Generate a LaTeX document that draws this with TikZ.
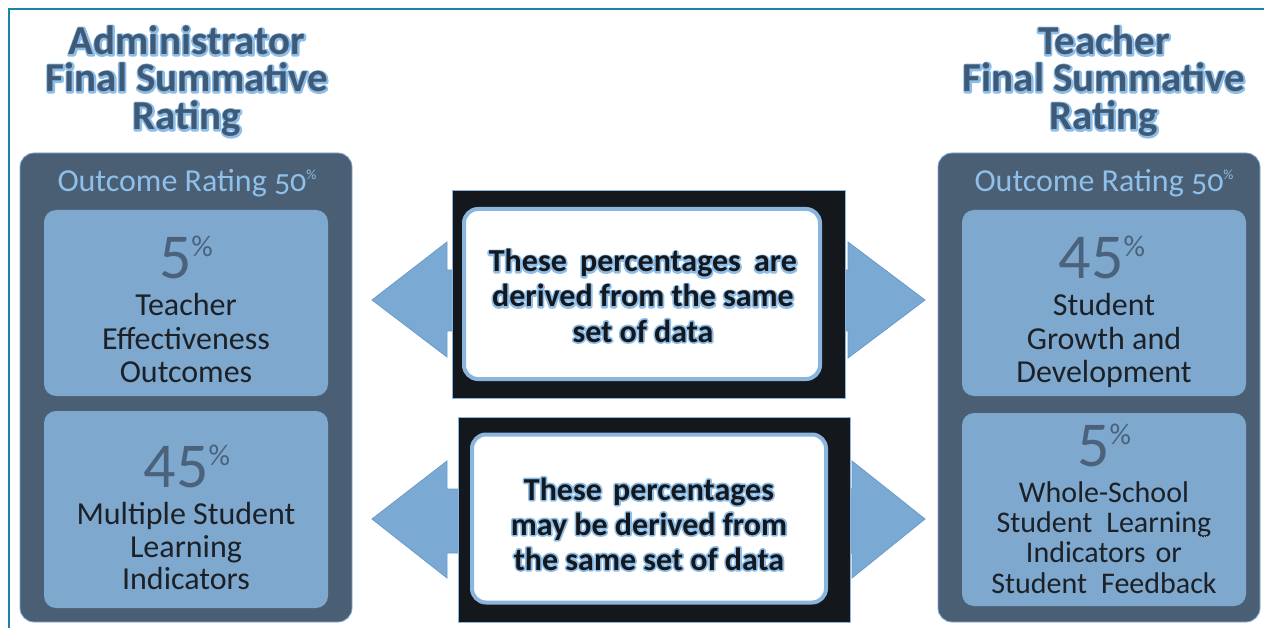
\documentclass[tikz,border=0pt]{standalone}
\usepackage{fontspec}
\setmainfont{Carlito}
\newfontfamily\osfont[Numbers=OldStyle]{Carlito}
\usetikzlibrary{calc}
\definecolor{framec}{HTML}{1B84A6}
\definecolor{panelc}{HTML}{4A5E74}
\definecolor{paneledge}{HTML}{7FAED6}
\definecolor{innerc}{HTML}{7EA8CD}
\definecolor{arrowc}{HTML}{7AAAD3}
\definecolor{arrowedge}{HTML}{6A9CCB}
\definecolor{blackc}{HTML}{14181D}
\definecolor{whiteedge}{HTML}{8AB6DE}
\definecolor{hdrc}{HTML}{3F5A77}
\definecolor{haloc}{HTML}{8EBEE8}
\definecolor{outc}{HTML}{8EC0EA}
\definecolor{numc}{HTML}{4B627C}
\definecolor{bodyc}{HTML}{1C2128}
\newcommand\hdrfont{\fontsize{41}{41}\selectfont\bfseries}
\newcommand\ctrfont{\fontsize{32}{32}\selectfont\bfseries}
\newcommand\bodyfont{\fontsize{32}{32}\selectfont}
\newcommand\smallbodyfont{\fontsize{30}{30}\selectfont}
\newcommand\outfont{\fontsize{32}{32}\selectfont}
\newcommand\pctnum[1]{{\fontsize{64}{64}\selectfont #1}{\fontsize{30}{30}\selectfont\raisebox{22pt}{\%}}}
% text with a light outline: stroked copy underneath, filled copy on top
\newcommand\outlined[1]{\leavevmode\rlap{\color{haloc}\special{pdf:literal direct 1 Tr 1 j 3.4 w}#1\special{pdf:literal direct 0 Tr 0 j 0.4 w}}#1}
\tikzset{
  panel/.style={fill=panelc,draw=paneledge,line width=0.8pt,rounded corners=14pt,inner sep=0pt},
  innerbox/.style={fill=innerc,rounded corners=12pt,inner sep=0pt},
  blackbox/.style={fill=blackc,draw=whiteedge,line width=0.8pt,inner sep=0pt},
  whitebox/.style={fill=white,draw=whiteedge,line width=4pt,rounded corners=14pt,inner sep=0pt},
  arrowshape/.style={fill=arrowc,draw=arrowedge,line width=0.8pt},
  txt/.style={anchor=base,inner sep=0pt},
  hdr/.style={txt,font=\hdrfont,text=hdrc},
  ctr/.style={txt,font=\ctrfont,text=blackc},
}
\begin{document}
\begin{tikzpicture}[x=1pt,y=-1pt]
\useasboundingbox (0,0) rectangle (1264,628);
\fill[white] (0,0) rectangle (1264,628);
% frame
\coordinate (ftl) at (9,9);
\coordinate (ftr) at (1264,9);
\coordinate (fbl) at (9,628);
\draw[framec,line width=2.5pt] (fbl) -- (ftl) -- (ftr);
% panels
\node[panel,minimum width=332,minimum height=469] (lpanel) at (186,387.5) {};
\node[panel,minimum width=322,minimum height=469] (rpanel) at (1099,387.5) {};
\node[innerbox,minimum width=284,minimum height=186] (lbox1) at (186,303) {};
\node[innerbox,minimum width=284,minimum height=197] (lbox2) at (186,509.5) {};
\node[innerbox,minimum width=284,minimum height=186] (rbox1) at (1104,303) {};
\node[innerbox,minimum width=284,minimum height=193] (rbox2) at (1104,509.5) {};
% arrows
\draw[arrowshape] (455,270) -- (447,270) -- (447,242) -- (372,300) -- (447,357) -- (447,331) -- (455,331) -- cycle;
\draw[arrowshape] (840,270) -- (848,270) -- (848,242) -- (925,300) -- (848,358) -- (848,331) -- (840,331) -- cycle;
\draw[arrowshape] (462,489) -- (447,489) -- (447,461) -- (372,519) -- (447,578) -- (447,553) -- (462,553) -- cycle;
\draw[arrowshape] (845,489) -- (852,489) -- (852,461) -- (925,519) -- (852,578) -- (852,553) -- (845,553) -- cycle;
% center boxes
\node[blackbox,minimum width=393,minimum height=208] (cbox1) at (648.5,294) {};
\node[whitebox,minimum width=356,minimum height=170] (wbox1) at (642,294) {};
\node[blackbox,minimum width=392,minimum height=205] (cbox2) at (654,519.5) {};
\node[whitebox,minimum width=354,minimum height=168] (wbox2) at (649,518.5) {};
% headers
\node[hdr] (lh1) at (187,55) {\outlined{Administrator}};
\node[hdr] (lh2) at (187,92) {\outlined{Final Summative}};
\node[hdr] (lh3) at (187,130) {\outlined{Rating}};
\node[hdr] (rh1) at (1104,55) {\outlined{Teacher}};
\node[hdr] (rh2) at (1104,92) {\outlined{Final Summative}};
\node[hdr] (rh3) at (1104,130) {\outlined{Rating}};
% outcome rating
\node[txt,font=\outfont,text=outc] (lout) at (187,192) {Outcome Rating {\osfont 50}{\fontsize{14}{14}\selectfont\raisebox{12pt}{\%}}};
\node[txt,font=\outfont,text=outc] (rout) at (1104,192) {Outcome Rating {\osfont 50}{\fontsize{14}{14}\selectfont\raisebox{12pt}{\%}}};
% left top
\node[txt,text=numc] (lnum1) at (186,279) {\pctnum{5}};
\node[txt,font=\bodyfont,text=bodyc] (lt1) at (186,316) {Teacher};
\node[txt,font=\bodyfont,text=bodyc] (lt2) at (186,349) {Effectiveness};
\node[txt,font=\bodyfont,text=bodyc] (lt3) at (186,382) {Outcomes};
% left bottom
\node[txt,text=numc] (lnum2) at (187,487) {\pctnum{45}};
\node[txt,font=\bodyfont,text=bodyc] (lb1) at (186,524) {Multiple Student};
\node[txt,font=\bodyfont,text=bodyc] (lb2) at (186,557) {Learning};
\node[txt,font=\bodyfont,text=bodyc] (lb3) at (186,589) {Indicators};
% right top
\node[txt,text=numc] (rnum1) at (1102,279) {\pctnum{45}};
\node[txt,font=\bodyfont,text=bodyc] (rt1) at (1104,316) {Student};
\node[txt,font=\bodyfont,text=bodyc] (rt2) at (1104,349) {Growth and};
\node[txt,font=\bodyfont,text=bodyc] (rt3) at (1104,382) {Development};
% right bottom
\node[txt,text=numc] (rnum2) at (1104,466) {\pctnum{5}};
\node[txt,font=\smallbodyfont,text=bodyc] (rb1) at (1104,502) {Whole-School};
\node[txt,font=\smallbodyfont,text=bodyc] (rb2) at (1104,532) {Student\hspace{14pt}Learning};
\node[txt,font=\smallbodyfont,text=bodyc] (rb3) at (1104,562) {Indicators\hspace{10pt}or};
\node[txt,font=\smallbodyfont,text=bodyc] (rb4) at (1104,593) {Student\hspace{14pt}Feedback};
\draw[gray!70,line width=0.8pt,dotted] (rb2.base west) ++(0,4) coordinate (ul1) -- (rb2.base east |- ul1);
% center texts
\node[ctr] (c11) at (643,272) {\outlined{These\hspace{6pt} percentages\hspace{6pt} are}};
\node[ctr] (c12) at (643,307) {\outlined{derived from the same}};
\node[ctr] (c13) at (643,342) {\outlined{set of data}};
\node[ctr] (c21) at (649,500) {\outlined{These\hspace{4pt} percentages}};
\node[ctr] (c22) at (649,535) {\outlined{may be derived from}};
\node[ctr] (c23) at (649,570) {\outlined{the same set of data}};
\end{tikzpicture}
\end{document}
